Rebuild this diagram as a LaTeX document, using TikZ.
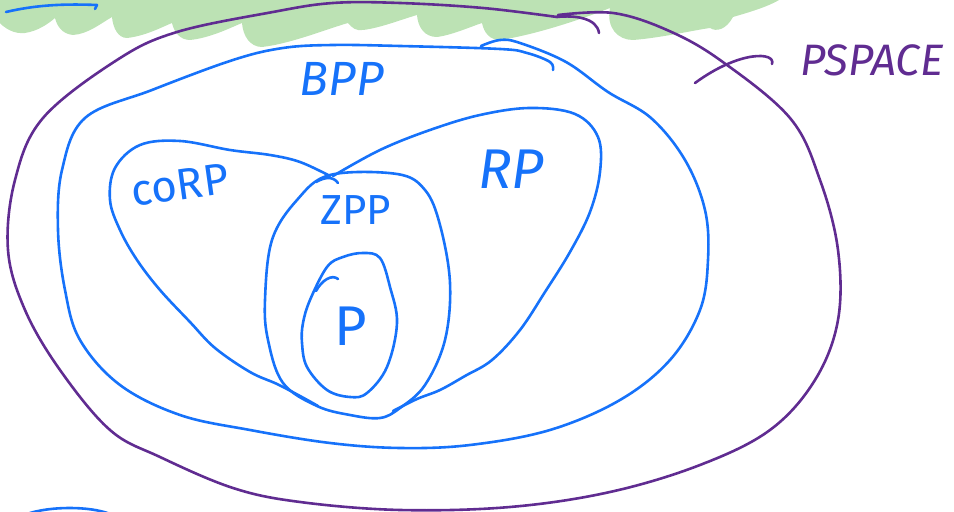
\documentclass[tikz,border=0pt]{standalone}
\usepackage{fontspec}
\setsansfont{Fira Sans}
\usepackage{tikz}
\definecolor{penblue}{RGB}{22,114,250}
\definecolor{penpurple}{RGB}{96,44,145}
\definecolor{leaf}{RGB}{188,226,180}
\tikzstyle{pen} = [line width=1.3pt, line cap=round, line join=round]
\tikzstyle{hand} = [font=\sffamily, inner sep=0pt]
\usetikzlibrary{calc}

\begin{document}
\begin{tikzpicture}
\begin{scope}[x=0.5pt, y=-0.5pt]
    \useasboundingbox (0,0) rectangle (954,512);
    %leaves at the top
    \fill[leaf] (-5,-5) -- (-5,18)
        .. controls (5,30) and (15,34) .. (25,33) .. controls (38,31) and (48,24) .. (55,18)
        .. controls (57,26) and (62,34) .. (73,35) .. controls (88,34) and (100,24) .. (112,17)
        .. controls (113,28) and (118,38) .. (127,38) .. controls (145,36) and (160,28) .. (172,23)
        .. controls (174,32) and (180,40) .. (190,40) .. controls (210,38) and (230,28) .. (242,23)
        .. controls (243,36) and (250,47) .. (262,47) .. controls (290,44) and (330,28) .. (348,23)
        .. controls (352,28) and (356,31) .. (363,30) .. controls (380,28) and (400,20) .. (417,15)
        .. controls (418,28) and (425,37) .. (437,37) .. controls (452,35) and (470,27) .. (482,23)
        .. controls (484,33) and (490,40) .. (500,40) .. controls (540,34) and (590,16) .. (610,8)
        .. controls (606,28) and (618,40) .. (633,40) .. controls (660,38) and (695,30) .. (710,28)
        .. controls (716,32) and (726,30) .. (733,17) .. controls (750,12) and (775,5) .. (786,-5)
        -- cycle;
    %stray strokes
    \coordinate (s1) at (6,12);
    \coordinate (s2) at (97,5);
    \draw[pen, penblue] (s1) .. controls (40,4) and (70,4) .. (s2) -- ++(-2,4);
    \coordinate (s3) at (27,514);
    \coordinate (s4) at (110,514);
    \draw[pen, penblue] (s3) .. controls (50,506) and (90,506) .. (s4);
    %pspace
    \draw[pen, penpurple] plot[smooth, tension=0.6] coordinates {
        (558,15) (613,13) (667,30) (720,60) (790,118) (820,180) (838,250)
        (838,320) (815,380) (770,430) (700,465) (610,492) (510,507) (400,510)
        (300,502) (233,488) (160,457) (110,430) (60,370) (25,310) (8,250)
        (15,180) (43,118) (117,60) (177,32) (273,12) (333,3) (400,3) (483,8) (557,17)};
    \draw[pen, penpurple] (557,17) .. controls (575,15) and (597,18) .. (599,33);
    %bpp
    \draw[pen, penblue] plot[smooth, tension=0.6] coordinates {
        (481,46) (500,40) (520,43) (566,62) (608,92) (651,118) (685,160)
        (705,210) (708,260) (700,310) (670,360) (620,400) (550,430) (470,445)
        (400,448) (330,443) (250,430) (180,415) (120,385) (80,340) (65,290)
        (58,230) (62,170) (85,118) (152,90) (233,60) (283,48) (333,45)
        (400,46) (500,49) (527,53) (550,62) (553,70)};
    %corp
    \draw[pen, penblue] plot[smooth, tension=0.6] coordinates {
        (330,176) (300,162) (270,155) (230,150) (180,141) (140,145) (115,168)
        (110,200) (120,230) (137,260) (160,290) (190,322) (215,348) (250,372)
        (277,384) (300,396) (318,406)};
    \draw[pen, penblue] (316,182) .. controls (325,177) and (333,176) .. (338,183);
    %rp
    \draw[pen, penblue] plot[smooth, tension=0.6] coordinates {
        (333,176) (380,150) (430,130) (480,115) (530,108) (575,114) (598,137)
        (600,172) (590,212) (570,252) (545,292) (520,330) (492,360) (465,376)
        (440,390) (417,399) (393,411)};
    %zpp
    \draw[pen, penblue] plot[smooth cycle, tension=0.6] coordinates {
        (330,175) (397,174) (425,190) (440,225) (450,283) (445,340) (425,385)
        (400,408) (380,418) (350,415) (317,406) (283,383) (268,340) (265,300)
        (272,240) (297,200)};
    %p
    \draw[pen, penblue] plot[smooth cycle, tension=0.6] coordinates {
        (363,253) (380,258) (390,287) (397,323) (387,367) (367,393) (350,397)
        (327,390) (307,367) (302,343) (303,323) (310,300) (327,267) (343,257)};
    \draw[pen, penblue] (316,291) .. controls (322,280) and (332,274) .. (338,279);
    %labels
    \node[hand, penblue, font=\sffamily\itshape\fontsize{24}{24}\selectfont] (bpp) at (342,79) {BPP};
    \node[hand, penblue, rotate=8, font=\sffamily\fontsize{22}{22}\selectfont] (corp) at (180,185) {coRP};
    \node[hand, penblue, font=\sffamily\itshape\fontsize{28}{28}\selectfont] (rp) at (511,169) {RP};
    \node[hand, penblue, font=\sffamily\fontsize{21}{21}\selectfont] (zpp) at (356,210) {ZPP};
    \node[hand, penblue, font=\sffamily\fontsize{28}{28}\selectfont] (p) at (351,326) {P};
    \node[hand, penpurple, font=\sffamily\itshape\fontsize{22}{22}\selectfont] (pspace) at (872,60) {PSPACE};
    %pointer
    \coordinate (tip) at (695,83);
    \coordinate (hook) at (772,64);
    \draw[pen, penpurple] (hook) .. controls (776,52) and (740,50) .. (tip);
\end{scope}
\end{tikzpicture}
\end{document}
